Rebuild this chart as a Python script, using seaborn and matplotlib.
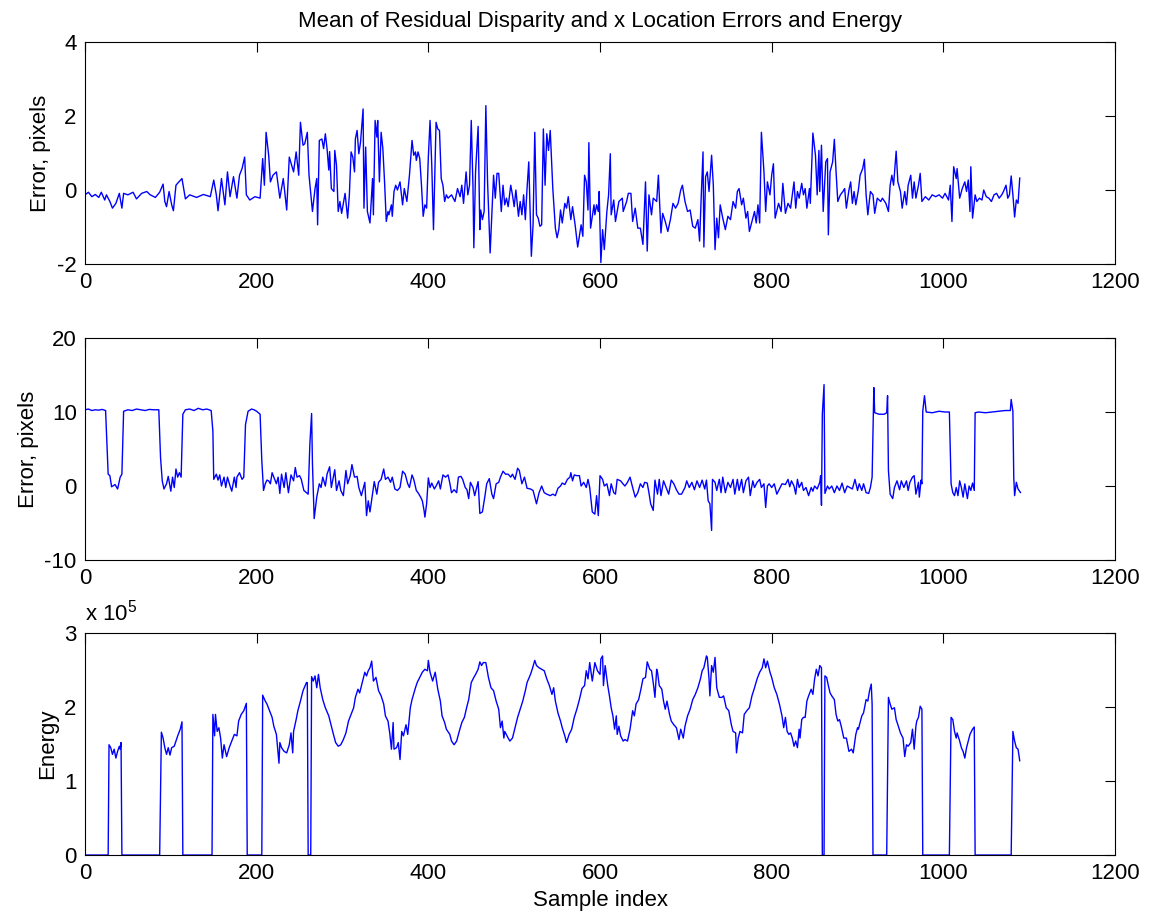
import numpy as np
import pandas as pd
import matplotlib
matplotlib.use("Agg")
import matplotlib.pyplot as plt
from matplotlib.ticker import FuncFormatter
import seaborn as sns

# Mean residual disparity error (pixels) per sample
disp_idx = [
    0, 4, 8, 12, 16, 19, 23, 25, 29, 32, 36, 40, 43, 45, 50, 56, 60, 66, 72, 76,
    82, 87, 91, 93, 95, 98, 101, 103, 106, 109, 113, 117, 122, 130, 138, 146, 150, 153, 155, 159,
    163, 166, 169, 173, 177, 180, 183, 186, 188, 192, 198, 204, 207, 209, 211, 214, 216, 219, 223, 227,
    231, 235, 238, 243, 246, 249, 251, 254, 256, 259, 261, 265,
    268, 270, 271, 273, 276, 278, 280, 282, 284, 285, 287, 290, 291, 293, 295, 297, 299, 303, 306, 308,
    310, 312, 314, 315, 317, 319, 321, 324, 325, 327, 329, 332, 335, 336, 338, 340, 341, 343, 345, 347,
    349, 351, 353, 354, 357, 358, 360, 362, 364, 367, 370, 372, 375, 378, 381, 383, 385, 386, 388, 390,
    392, 394, 396, 398, 400, 402, 404, 406, 409, 411, 413, 415, 417, 419, 421, 423, 427, 431, 434, 437,
    439, 441, 444, 446, 448, 450, 452, 453, 455, 458, 460, 461, 463, 465, 467, 469, 472, 474, 476, 478,
    480, 482, 485, 487, 489, 491, 493, 496, 498, 500, 502, 505, 507, 509, 511, 513, 515, 517, 520, 522,
    524, 526, 528, 530, 532, 534, 536, 538, 540,
    542, 545, 548, 550, 552, 554, 556, 559, 561, 563, 566, 568, 571, 574, 578, 580, 582, 584, 586, 587,
    589, 593, 594, 596, 598, 599, 601, 603, 605, 608, 610, 612, 613, 616, 618, 622, 626, 627, 631, 633,
    636, 638, 641, 644, 647, 650, 653, 655, 657, 660, 662, 666, 668, 671, 673, 676, 679, 682, 685, 688,
    691, 694, 696, 699, 702, 705, 708, 711, 714, 716, 718, 720, 721, 723, 725, 727, 730, 732, 734, 736,
    738, 740, 743, 746, 749, 752, 755, 758, 760, 762, 765, 767, 770, 772, 774, 777, 780, 782, 784, 786,
    788, 791, 793, 795, 798, 800, 802, 804, 808, 811, 813,
    816, 819, 822, 824, 826, 828, 830, 832, 835, 837, 839, 841, 844, 845, 848, 851, 853, 855, 856, 858,
    860, 863, 865, 866, 868, 871, 873, 875, 877, 880, 883, 885, 887, 890, 892, 894, 896, 898, 901, 903,
    906, 908, 910, 912, 915, 918, 920, 923, 927, 929, 933, 936, 938, 940, 942, 945, 947, 950, 952, 955,
    957, 959, 962, 964, 966, 968, 971, 973, 975, 979, 983, 987, 991, 995, 999, 1002, 1006, 1008, 1010, 1012,
    1015, 1016, 1019, 1022, 1025, 1027, 1029, 1031, 1032, 1034, 1037, 1039, 1042, 1045, 1047, 1050, 1053, 1056, 1059, 1062,
    1065, 1068, 1070, 1073, 1075, 1077, 1079, 1081, 1083, 1085, 1087, 1089,
]
disp_err = [
    -0.13, -0.06, -0.18, -0.12, -0.20, -0.06, -0.27, -0.13, -0.31, -0.49, -0.36, -0.09, -0.49, -0.09, -0.13, -0.06, -0.24, -0.09, -0.04, -0.13,
    -0.20, -0.06, 0.16, -0.31, -0.45, -0.04, -0.40, -0.56, 0.13, 0.21, 0.31, -0.24, -0.13, -0.20, -0.12, -0.18, 0.27, -0.13, -0.56, 0.31,
    -0.40, 0.49, -0.18, 0.36, -0.22, 0.40, 0.58, 0.89, -0.13, -0.27, -0.18, -0.22, 0.85, 0.13, 1.56, 0.94, 0.22, 0.40, 0.49, -0.22,
    0.31, -0.54, 0.89, 0.49, 1.03, 0.40, 1.83, 1.21, 1.25, 1.56, 0.40, -0.58,
    0.04, 0.31, -0.94, 1.34, 1.38, 1.12, 1.52, 1.12, 0.54, 1.04, 0.04, -0.04, 1.07, 0.67, -0.58, -0.31, -0.63, -0.09, -0.76, -0.13,
    1.03, 0.89, 0.49, 1.38, 1.61, 0.98, 1.29, 2.19, -0.49, 1.16, -0.58, -0.89, 0.31, -0.67, 1.88, 1.43, 1.88, 0.22, 1.56, 1.12,
    0.22, -0.85, -0.58, -0.67, -0.40, -0.71, -0.04, 0.13, 0.00, 0.22, -0.40, 0.04, -0.31, 0.40, 1.34, 0.94, 1.03, 0.80, 1.03, 0.85,
    0.13, -0.71, -0.40, -0.49, 0.89, 1.88, 0.67, -1.07, 1.83, 1.65, 1.61, 0.31, 0.13, -0.31, -0.13, -0.22, -0.13, -0.31, 0.04, -0.18,
    0.13, -0.36, 0.49, -0.13, 0.13, 1.88, 0.09, -1.56, 0.49, 1.72, -1.07, -0.54, -0.80, -0.58, 2.28, 0.22, -1.70, -0.67, 0.40, -0.22,
    0.45, 0.45, -0.58, 0.13, -0.40, -0.22, -0.45, 0.13, -0.13, -0.45, 0.00, -0.71, -0.31, -0.67, -0.13, -0.80, 0.04, 0.76, -1.79, -0.94,
    1.56, -0.67, -0.76, -0.98, -0.94, 1.65, 0.13, 1.52, 1.07,
    1.61, 0.04, -1.03, -1.29, -1.07, -0.54, -0.89, -0.36, -0.49, -0.18, -0.80, -0.45, -0.94, -1.54, -0.94, -1.25, 0.40, 0.22, -0.54, 1.28,
    -1.03, -0.40, -0.67, -0.40, -0.58, -0.04, -1.96, -1.07, -1.61, -0.58, -0.13, 0.98, -0.67, -0.27, -0.85, -0.31, -0.22, -0.58, -0.31, -0.09,
    -0.09, -0.85, -0.49, -1.03, -1.03, -1.47, 0.22, -1.65, -0.13, -0.67, -0.22, -0.31, 0.40, -1.16, -0.63, -0.85, -1.12, -0.80, -0.36, -0.49,
    -0.36, 0.00, 0.13, -0.31, -0.58, -0.54, -0.98, -1.03, -0.80, -1.38, -0.13, 1.03, -1.54, 0.36, 0.49, -0.04, 0.94, 0.13, -1.61, -0.76,
    -1.29, -0.40, -0.76, -1.07, -0.71, -0.80, -0.31, -0.49, -0.04, 0.04, -0.40, -0.22, -0.76, -0.58, -1.12, -0.85, -0.58, -0.89, -0.40, -0.89,
    1.56, 0.49, -0.58, 0.22, -0.13, 0.40, 0.71, -0.76, -0.36, -0.58, 0.18,
    -0.63, -0.36, -0.49, -0.13, 0.22, -0.49, -0.04, -0.22, 0.18, -0.13, 0.04, -0.49, 0.04, -0.36, 1.54, 0.94, -0.13, 1.07, -0.04, 1.21,
    -0.58, 0.76, 0.85, -1.21, 0.49, 0.76, 1.37, 0.49, -0.31, -0.13, -0.04, 0.04, -0.49, 0.00, 0.22, -0.36, -0.04, -0.40, 0.00, 0.40,
    0.58, 0.83, -0.13, -0.67, -0.04, -0.13, -0.63, -0.22, -0.31, -0.22, -0.36, -0.58, 0.13, 0.40, 0.13, 1.05, 0.22, -0.04, -0.49, -0.04,
    -0.40, 0.13, 0.40, -0.22, 0.22, -0.22, 0.13, 0.45, -0.31, -0.18, -0.27, -0.13, -0.18, -0.13, -0.22, -0.09, -0.27, 0.13, -0.85, 0.63,
    0.31, 0.58, -0.22, 0.04, 0.22, -0.04, 0.27, -0.58, 0.63, -0.76, -0.13, -0.31, -0.22, -0.27, 0.00, -0.18, -0.22, -0.31, -0.13, -0.09,
    -0.22, -0.13, -0.04, 0.13, -0.22, -0.13, 0.38, -0.13, -0.73, -0.27, -0.36, 0.33,
]

# Mean x location error (pixels) per sample
xloc_idx = [
    0, 4, 8, 12, 16, 20, 24, 27, 29, 31, 35, 38, 41, 43, 45, 50, 55, 60, 65, 70,
    75, 80, 86, 88, 90, 92, 95, 97, 100, 102, 104, 106, 108, 110, 112, 114, 117, 122, 127, 132,
    137, 142, 147, 149, 150, 153, 155, 157, 159, 162, 164, 166, 169, 171, 174, 176, 177, 180, 183, 185,
    187, 190, 194, 197, 200, 204, 206, 208, 210, 212, 214, 216, 218, 220, 223, 225, 227, 229, 232, 234,
    237, 240, 243, 245, 247, 250, 252, 255, 258, 260, 262, 264, 265, 267,
    270, 273, 275, 277, 280, 282, 285, 287, 291, 293, 296, 298, 301, 304, 306, 309, 311, 314, 317, 319,
    322, 326, 328, 330, 332, 335, 337, 340, 342, 345, 348, 350, 353, 356, 358, 361, 364, 367, 370, 373,
    376, 378, 381, 383, 386, 388, 391, 393, 395, 396, 398, 400, 402, 404, 407, 409, 412, 414, 417, 420,
    423, 425, 427, 430, 433, 435, 438, 440, 443, 445, 447, 449, 452, 454, 458, 460, 463, 466, 468, 471,
    474, 476, 479, 482, 484, 487, 490, 493, 496, 498, 501, 504, 506, 509, 512, 515, 519, 522, 526, 529,
    532, 535, 538,
    542, 545, 548, 551, 554, 556, 559, 562, 565, 566, 568, 570, 573, 576, 578, 581, 584, 586, 588, 591,
    594, 596, 598, 600, 603, 605, 608, 611, 613, 616, 618, 620, 624, 626, 629, 632, 635, 638, 641, 644,
    647, 650, 652, 655, 657, 659, 662, 664, 667, 669, 671, 674, 677, 680, 683, 686, 689, 692, 695, 699,
    701, 704, 707, 710, 713, 716, 719, 722, 724, 726, 728, 730, 731, 734, 736, 739, 741, 743, 746, 749,
    752, 755, 757, 760, 762, 765, 767, 770, 773, 775, 778, 780, 783, 786, 788, 791, 793, 795, 797, 800,
    803, 806, 809, 812,
    816, 819, 821, 823, 826, 828, 830, 832, 835, 837, 840, 843, 846, 848, 850, 853, 856, 857, 858, 859,
    861, 862, 865, 867, 870, 873, 876, 879, 882, 885, 888, 891, 894, 897, 900, 902, 905, 907, 910, 913,
    915, 917, 919, 920, 925, 931, 934, 935, 936, 938, 941, 943, 946, 949, 951, 954, 957, 959, 961, 964,
    966, 968, 971, 972, 974, 975, 976, 978, 980, 987, 995, 1002, 1007, 1009, 1011, 1013, 1015, 1017, 1019, 1021,
    1023, 1025, 1028, 1030, 1032, 1034, 1036, 1037, 1041, 1049, 1057, 1065, 1072, 1078, 1079, 1081, 1082, 1083, 1085, 1087,
    1090,
]
xloc_err = [
    10.3, 10.4, 10.2, 10.3, 10.25, 10.35, 10.2, 1.6, 1.4, -0.1, 0.2, -0.4, 1.2, 1.6, 10.1, 10.3, 10.2, 10.4, 10.3, 10.2,
    10.35, 10.3, 10.3, 3.9, 0.7, -0.4, 0.3, 1.3, -0.7, 1.2, -0.2, 2.3, 1.2, 1.8, 1.2, 9.7, 10.3, 10.4, 10.2, 10.5,
    10.3, 10.4, 10.2, 7.4, 0.9, 1.6, 0.8, 1.5, 0.0, 1.2, -0.2, 1.2, 0.0, -0.7, 1.2, -0.2, 1.2, 1.8, 0.9, 1.2,
    8.3, 10.1, 10.4, 10.3, 10.1, 9.7, 3.4, -0.6, 0.3, 0.8, 0.7, 0.3, 1.8, 1.2, 0.3, 1.2, -1.0, 1.6, -0.2, 1.8,
    -0.9, 1.5, 0.7, 2.5, 1.2, 1.4, 0.9, -0.6, -0.9, -1.1, 5.7, 9.8, 3.0, -4.4,
    -1.5, 0.3, -0.2, 1.2, 0.0, 1.6, 2.6, -0.2, 2.2, -0.6, 0.7, -0.6, -1.3, 2.1, 0.3, 1.4, 2.9, 1.2, 1.3, -0.2,
    -1.3, 0.5, -4.0, -2.0, -3.5, -1.1, 0.6, -1.1, 0.5, 0.9, 2.3, 0.9, 1.2, 0.5, 1.2, -0.4, -0.6, -0.2, 2.0, 1.6,
    0.3, -0.2, 1.5, 0.9, -0.6, -0.9, -1.5, -2.0, -3.3, -4.2, -2.4, 1.1, -0.2, 0.4, -0.4, 0.0, 0.7, -0.4, 1.5, 1.2,
    1.5, 0.4, -0.9, -0.5, -0.9, 1.2, 1.3, 0.9, -0.2, -0.5, -1.7, 0.5, -0.2, -1.3, 0.6, -3.7, -3.5, -1.3, 0.3, 1.0,
    -1.1, -1.7, 0.3, 0.5, 1.2, 2.0, 1.6, 1.6, 1.2, 1.6, 0.9, 2.4, 2.1, 0.3, 1.2, -0.3, -0.4, -0.6, -2.4, -0.9,
    0.0, -0.9, -1.1,
    -1.3, -1.1, -1.3, -0.3, 0.0, 0.4, 0.2, 0.9, 1.2, 1.8, 0.7, 1.5, 1.4, 1.4, 0.0, 0.5, -0.2, 0.9, -0.2, -3.5,
    -3.8, -1.3, -4.0, 1.4, 0.9, 0.0, 0.3, -1.3, 0.3, -0.9, -1.1, 0.9, 0.7, 0.4, 0.0, 0.5, 1.2, -0.2, -1.5, -0.9,
    0.3, -0.2, 0.5, 0.4, -0.9, -2.4, -3.3, 0.8, -1.1, 0.9, -1.3, 0.7, -0.2, -1.1, 0.8, 0.3, -0.5, -1.1, -1.1, -0.2,
    0.7, -0.2, 0.5, -0.5, 0.7, -0.2, 0.8, -0.4, 0.8, -2.0, -2.4, -6.0, 0.9, 0.5, -0.6, 0.9, -0.9, 1.2, -0.9, 0.5,
    -0.2, 0.9, -1.1, 0.9, -0.6, 0.9, -0.9, 0.7, 1.2, -1.3, 0.7, -0.2, 0.5, 0.9, -0.2, 0.3, -2.9, 0.0, 0.3, -0.2,
    0.3, -1.1, -0.4, 0.3,
    0.2, 0.9, -0.1, 0.7, 0.0, -1.1, 0.9, -0.2, 0.5, -0.6, -0.2, -1.3, -0.2, -0.7, 0.0, -0.4, 0.5, 1.4, -2.6, 9.7,
    13.7, -1.0, 0.0, -0.4, 0.0, -0.9, 0.0, -0.6, 0.4, -0.9, 0.0, -0.2, -0.4, 0.9, -0.6, 0.3, -0.6, 0.3, -0.9, -1.0,
    -0.2, 1.2, 13.3, 9.9, 9.7, 9.7, 9.9, 12.2, 2.1, -1.1, -1.7, -0.2, 0.7, -0.5, 0.7, -0.2, 0.7, -0.6, 0.5, 1.2,
    1.4, -1.1, 0.5, -1.5, 0.8, 0.3, 10.1, 12.2, 10.0, 9.9, 10.1, 10.0, 10.0, 0.3, -0.9, -1.3, -0.2, -1.3, 0.7, -0.2,
    -1.5, 0.3, -1.7, 0.0, -0.6, 0.4, -0.6, 9.9, 10.0, 9.9, 10.0, 10.1, 10.2, 10.2, 11.7, 10.1, 1.2, -1.3, 0.5, -0.4,
    -0.9,
]

# Energy per sample, in units of 1e5
energy_idx = [
    0, 27, 28, 30, 32, 34, 36, 38, 40, 41, 42, 43, 87, 89, 91, 93, 95, 97, 99, 101,
    104, 106, 108, 111, 113, 114, 148, 149, 151, 152, 154, 156, 158, 160, 162, 165, 168, 171, 174, 177,
    179, 182, 185, 188, 189, 206, 207, 210, 212, 215, 218, 220, 223, 226, 227, 229, 232, 235, 238, 240,
    242, 243, 246, 248, 251, 254, 258, 259, 260, 263, 264, 266,
    268, 270, 272, 274, 277, 280, 284, 287, 289, 292, 295, 298, 301, 304, 307, 310, 313, 315, 318, 320,
    323, 326, 328, 330, 332, 334, 336, 339, 342, 345, 348, 350, 353, 355, 357, 359, 360, 363, 365, 367,
    369, 371, 374, 376, 379, 381, 385, 387, 390, 393, 396, 399, 400, 402, 405, 408, 411, 414, 416, 419,
    421, 425, 427, 430, 433, 436, 439, 442, 445, 447, 450, 453, 455, 458, 460, 462, 464, 467, 470, 473,
    476, 479, 482, 484, 486, 488, 489, 493, 495, 498, 501, 504, 507, 510, 513, 515, 519, 521, 524, 526,
    529, 532, 535, 538, 541,
    544, 546, 548, 551, 554, 556, 559, 561, 564, 567, 570, 573, 576, 579, 582, 584, 586, 588, 591, 593,
    594, 597, 600, 601, 603, 604, 606, 609, 611, 613, 615, 617, 619, 620, 622, 624, 627, 629, 632, 635,
    638, 640, 642, 645, 648, 650, 653, 655, 658, 660, 662, 664, 666, 667, 669, 672, 674, 676, 678, 681,
    683, 686, 689, 692, 694, 697, 699, 702, 705, 708, 711, 714, 717, 719, 721, 724, 725, 727, 728, 730,
    732, 734, 736, 739, 742, 744, 747, 750, 753, 755, 758, 759, 761, 763, 766, 768, 771, 774, 777, 780,
    783, 786, 789, 791, 793, 795, 798, 800, 803, 806, 809, 812, 814,
    816, 818, 820, 822, 824, 826, 828, 830, 832, 833, 835, 837, 839, 841, 843, 846, 848, 850, 852, 854,
    856, 858, 859, 861, 862, 864, 866, 868, 870, 873, 875, 877, 879, 881, 884, 887, 890, 893, 895, 898,
    900, 901, 905, 907, 910, 912, 914, 916, 917, 918, 934, 936, 938, 940, 943, 945, 947, 950, 953, 955,
    957, 959, 962, 964, 966, 968, 969, 971, 973, 975, 976, 1007, 1009, 1011, 1013, 1015, 1016, 1019, 1021, 1023,
    1025, 1027, 1029, 1031, 1034, 1036, 1037, 1079, 1081, 1083, 1085, 1087, 1089,
]
energy_e5 = [
    0, 0, 1.49, 1.45, 1.36, 1.43, 1.31, 1.40, 1.47, 1.43, 1.52, 0, 0, 1.66, 1.58, 1.45, 1.36, 1.45, 1.35, 1.45,
    1.47, 1.54, 1.61, 1.70, 1.80, 0, 0, 1.90, 1.61, 1.90, 1.67, 1.72, 1.58, 1.31, 1.49, 1.33, 1.45, 1.54, 1.63, 1.61,
    1.81, 1.90, 1.95, 2.05, 0, 0, 2.16, 2.08, 2.04, 1.95, 1.86, 1.74, 1.63, 1.24, 1.52, 1.45, 1.40, 1.38, 1.49, 1.65,
    1.38, 1.67, 1.83, 1.95, 2.08, 2.22, 2.33, 2.33, 0, 0, 2.41, 2.35,
    2.42, 2.26, 2.44, 2.26, 2.10, 1.99, 1.88, 1.74, 1.65, 1.52, 1.47, 1.49, 1.56, 1.65, 1.81, 1.90, 1.99, 2.13, 2.24, 2.19,
    2.33, 2.47, 2.42, 2.49, 2.53, 2.62, 2.35, 2.40, 2.22, 2.15, 2.04, 1.88, 1.81, 1.65, 1.43, 1.79, 1.43, 1.45, 1.52, 1.29,
    1.67, 1.61, 1.76, 1.63, 1.99, 2.10, 2.26, 2.33, 2.40, 2.47, 2.51, 2.49, 2.63, 2.47, 2.35, 2.47, 2.24, 2.08, 1.88, 1.79,
    1.70, 1.63, 1.54, 1.49, 1.54, 1.67, 1.79, 1.86, 2.01, 2.10, 2.33, 2.40, 2.44, 2.51, 2.61, 2.56, 2.60, 2.60, 2.40, 2.26,
    2.22, 2.08, 1.97, 1.72, 1.81, 1.58, 1.67, 1.58, 1.54, 1.58, 1.72, 1.86, 1.97, 2.08, 2.22, 2.33, 2.44, 2.51, 2.63, 2.56,
    2.53, 2.51, 2.49, 2.38, 2.29,
    2.17, 2.26, 2.08, 1.92, 1.81, 1.72, 1.61, 1.52, 1.63, 1.70, 1.86, 1.97, 2.10, 2.25, 2.29, 2.49, 2.38, 2.60, 2.35, 2.51,
    2.60, 2.49, 2.44, 2.65, 2.69, 2.29, 2.56, 2.29, 2.15, 1.99, 1.88, 1.70, 1.88, 1.63, 1.74, 1.61, 1.54, 1.56, 1.54, 1.70,
    1.95, 1.88, 2.04, 2.10, 2.26, 2.38, 2.40, 2.61, 2.51, 2.49, 2.33, 2.13, 2.51, 2.47, 2.29, 2.24, 2.08, 1.97, 2.08, 1.90,
    1.81, 1.76, 1.72, 1.56, 1.70, 1.58, 1.74, 1.88, 1.97, 2.10, 2.17, 2.26, 2.38, 2.49, 2.53, 2.69, 2.67, 2.38, 2.15, 2.56,
    2.47, 2.67, 2.26, 2.13, 2.13, 2.15, 1.99, 1.95, 1.76, 1.67, 1.65, 1.38, 1.58, 1.67, 1.65, 1.90, 1.95, 1.99, 2.15, 2.26,
    2.38, 2.47, 2.53, 2.65, 2.53, 2.62, 2.47, 2.40, 2.26, 2.17, 2.04, 1.88, 1.72,
    1.86, 1.67, 1.63, 1.65, 1.58, 1.47, 1.54, 1.45, 1.70, 1.58, 1.83, 1.86, 1.86, 2.08, 2.15, 2.24, 2.17, 2.38, 2.51, 2.42,
    2.56, 2.53, 0, 0, 2.42, 2.40, 2.29, 2.19, 2.15, 2.10, 1.90, 1.81, 1.83, 1.74, 1.58, 1.58, 1.40, 1.43, 1.38, 1.63,
    1.72, 1.70, 1.88, 1.92, 2.10, 2.08, 2.22, 2.31, 2.04, 0, 0, 2.13, 2.04, 1.97, 1.99, 1.83, 1.76, 1.65, 1.58, 1.33,
    1.49, 1.47, 1.52, 1.70, 1.43, 1.74, 1.81, 1.86, 2.01, 1.97, 0, 0, 1.86, 1.83, 1.67, 1.58, 1.65, 1.54, 1.45, 1.40,
    1.31, 1.45, 1.54, 1.63, 1.70, 1.73, 0, 0, 1.67, 1.54, 1.45, 1.43, 1.27,
]

x_ticks = [0, 200, 400, 600, 800, 1000, 1200]
disp_ticks = [-2, 0, 2, 4]
xloc_ticks = [-10, 0, 10, 20]
energy_ticks = [0, 1e5, 2e5, 3e5]

title_text = "Mean of Residual Disparity and x Location Errors and Energy"
ylabel_err = "Error, pixels"
ylabel_energy = "Energy"
xlabel_text = "Sample index"

sns.set_style("white")
plt.rcParams["font.family"] = ["Liberation Sans", "DejaVu Sans"]
plt.rcParams["mathtext.fontset"] = "custom"
plt.rcParams["mathtext.rm"] = "Liberation Sans"
plt.rcParams["mathtext.it"] = "Liberation Sans:italic"
plt.rcParams["mathtext.bf"] = "Liberation Sans:bold"
plt.rcParams["axes.unicode_minus"] = False
plt.rcParams["text.color"] = "black"
plt.rcParams["axes.labelcolor"] = "black"
plt.rcParams["xtick.color"] = "black"
plt.rcParams["ytick.color"] = "black"

FS = 16
LINE = (0.0, 0.0, 1.0)

frames = [
    pd.DataFrame({"sample": disp_idx, "value": disp_err}),
    pd.DataFrame({"sample": xloc_idx, "value": xloc_err}),
    pd.DataFrame({"sample": energy_idx, "value": np.array(energy_e5) * 1e5}),
]

fig = plt.figure(figsize=(11.5, 9.13), dpi=100)
left, width, height = 0.0739, 0.8957, 0.2432
bottoms = [0.7108, 0.3866, 0.0635]
axes = [fig.add_axes([left, b, width, height]) for b in bottoms]

ylims = [(-2, 4), (-10, 20), (0, 3e5)]
yticks = [disp_ticks, xloc_ticks, energy_ticks]
ylabels = [ylabel_err, ylabel_err, ylabel_energy]

for ax, df, ylim, yt, yl in zip(axes, frames, ylims, yticks, ylabels):
    sns.lineplot(data=df, x="sample", y="value", ax=ax, color=LINE,
                 linewidth=1.0, estimator=None, sort=False, errorbar=None)
    ax.set_xlim(0, 1200)
    ax.set_ylim(*ylim)
    ax.set_xticks(x_ticks)
    ax.set_yticks(yt)
    ax.set_xlabel("")
    ax.set_ylabel(yl, fontsize=FS, labelpad=4, color="black")
    ax.tick_params(direction="in", top=True, right=True, length=7, width=0.8,
                   labelsize=FS, pad=6, colors="black")
    for s in ax.spines.values():
        s.set_visible(True)
        s.set_linewidth(0.8)
        s.set_color("black")
    ax.grid(False)

axes[0].set_title(title_text, fontsize=FS, pad=11, color="black")
axes[2].yaxis.set_major_formatter(FuncFormatter(lambda v, p: f"{v / 1e5:g}"))
axes[2].text(0.0, 1.035, r"x 10$^5$", transform=axes[2].transAxes,
             ha="left", va="bottom", fontsize=FS, color="black")
axes[2].set_xlabel(xlabel_text, fontsize=FS, labelpad=4, color="black")

fig.savefig("out.png", dpi=100, facecolor="white")
